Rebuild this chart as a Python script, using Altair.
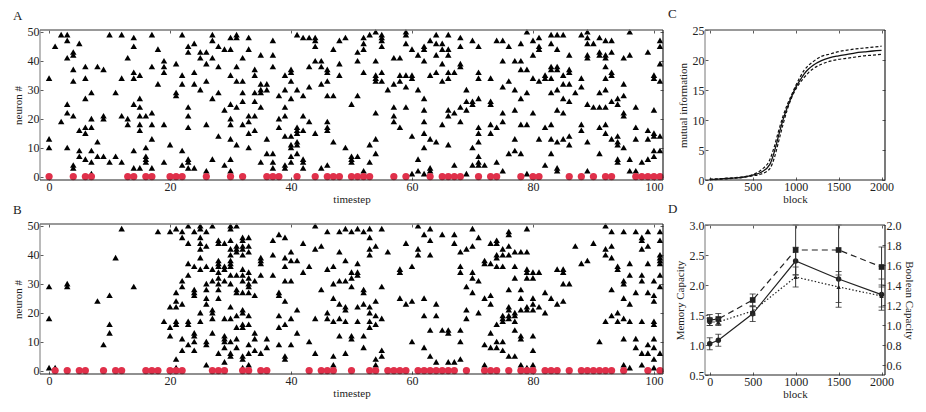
import altair as alt
import pandas as pd

A_SPIKES = {
0:[34,13,10],1:[45],2:[49,19],3:[49,47,41,25,22,10],4:[43,42,37,33,21,4,3],5:[46,16,9,7],6:[38,34,27,17,15,6],
7:[29,20,17,9,5,1],8:[38,12,7],9:[37,21,20,7],10:[49,5],11:[29,7],12:[49,34,21,5],13:[41,20,18],
14:[48,45,36,34,25,9,3],15:[35,27,24,21,18,16,3],16:[21,10,7,6,5],17:[49,38,22,18,13,3],18:[44,32],
19:[40,38,36,18,5],20:[11],21:[39,29,28],22:[49,35,32,9,4],23:[45,43,24,21,17,6,5,3],24:[46,36,32,3],
25:[43,41,30],26:[43,39,33,18,2],27:[49,47,41,27,6],28:[45,38,29,14],29:[44,23,4],30:[48,44,35,25,20,18,13,6,2],
31:[49,48,38,33,24,11],32:[41,33,29,26,18],33:[48,44,21,19,15,10],34:[37,35,29,26,21,16],35:[42,32,30,29,24,5],
36:[32,30,13,8],37:[47,42,38,8,5,3],38:[28,20,17],39:[35,30,24,21,14,4,3],40:[37,36,33,27,14,11,10,7,5],
41:[49,30,17,16,15,12,11,8],42:[48,28,21,16,6,5,3],43:[48,38,31,19],44:[48,47,45,40,15],45:[40,38,32,3],
46:[37,36,33,28,19,17,16,4],47:[44,28,12],48:[47,39,35],49:[48,10],50:[25,7,6,5],51:[43,40,28,7],
52:[48,46,44,36,2],53:[49,11,5],54:[50,40,35,34,33,22,13,8],55:[49,48,47,45,36,33],56:[30],57:[41,32,24,21,19],
58:[41,35,33,17],59:[50,49,46,35,31,24],60:[44,35,34,14,1],61:[42,30,6,2],62:[45,44,40,27,23,19,15,10,1],
63:[47,35,13,3,2],64:[49,46,42,36,12],65:[46,44,39,33,18],66:[49,44,42,36,34,23,21,11],67:[36,22,4],
68:[48,45,39,38,24,19],69:[30,26,23,1],70:[47,26,25,10,4],71:[45,36,34,27,17,15,12,7,5,4],72:[4],
73:[34,26,25,18,15],74:[47,17,5],75:[47,40,31,22,19,2],76:[45,33,8],77:[40,30,23,13,9],78:[46,40,37,27,18,8],
79:[50,37,29,18,1],80:[47,42,34,22],81:[48,45,44,33,13],82:[35,34,17,4],83:[49,46,38,37,34,29,18,13,8],
84:[49,44,38,37,30,23,12,3,2],85:[49,35,32,27,22,13],86:[42,37,36,32,26,14,11],87:[29],88:[49,34,31,18,16],
89:[50,48,46,42,41,25,12,2],90:[46,24],91:[48,43,42,29,24,17,8],92:[47,42,41,38,34,30,24,18,15],
93:[47,43,36,35,26,13],94:[27,25,14,12,11,6,5],95:[41,32,28,22,21,10],96:[50,42,6,2],97:[24,17,13,2],98:[5],
99:[43,16,13,6],100:[35,34,23,15,14,9,7],101:[47,45,39,33,14,9],
}
A_RED = [0,4,6,7,13,14,16,17,20,21,22,26,30,32,36,37,38,41,44,46,47,48,50,51,52,53,57,59,63,65,66,67,68,71,73,74,
         78,80,81,86,88,90,92,93,97,98,99,100,101]

B_SPIKES = {
0:[29,18,1],1:[1],3:[30,29],8:[24],9:[9],10:[26,16,13],11:[39],12:[49],14:[29],18:[48],19:[17],20:[48,22,15,12],
21:[49,27,24,22,17,16,4,1],22:[48,46,31,29,23,11,7],23:[50,44,37,33,17,16,9],24:[48,36,28,27,26,13,12,10,7],
25:[50,49,46,44,42,39,35,20,17],26:[48,43,36,30,28,25,23,10,9,2],27:[50,35,31,21,20,18,13],
28:[45,44,38,37,36,34,32,30,28,25,6],29:[44,36,35,31,18,12,11,10,8,3],
30:[50,49,45,42,40,38,37,36,33,30,22,18,10,6,5],31:[50,43,42,41,33,28,27,19,15,11,8],
32:[46,45,43,42,40,35,33,31,27,21,20,16,15,5,4,1],33:[46,43,41,34,32,30,29,27,19,16,9,6,2],
34:[31,26,13,11,7],35:[39,38,37,33,6],36:[11,8],37:[45,40,33],38:[47,27,26,19,15,9],39:[46,39,36,31,24,16,5,4],
40:[41,38,31,18,9],41:[38,21,13],42:[44,34],43:[36,10],44:[50,42,18,6],45:[43,28],46:[48,35,20,18],
47:[36,30,25,17,5,2],48:[48,41,31,23,18,12],49:[49,38,31,22,21,17,6],50:[48,34,32,29,12,11],51:[49,37,34,33,22,17],
52:[48,28,27,23,12,8],53:[49,46,42,40,22,20,17,15],54:[43,24,19,16,4,2],55:[49,29,18,7,5],56:[41],58:[35,34,25],
59:[44,23],60:[36,24,10],61:[50,42,40],62:[47,25,19,8],63:[49,45,40,14,5],64:[23,19,3],65:[47,14],66:[14,13,3],
67:[47,44,3],68:[41,36,34,14,10,4],69:[42,29,21,18],70:[49,43,34,32,27],71:[46,31,20],72:[38,37,25,9,2],
73:[44,37,26,23,13,8],74:[45,44,40,39,36,16,10,8],75:[42,40,36,19,18,17,10,7],76:[48,47,43,40,28,22,21,19,18,5],
77:[41,36,32,20,19,17,14,5],78:[41,28,25,21,12,11,2],79:[49,41,35,34,32,22,21,1],80:[34,32,25,23,21,12,7,2],
81:[34,22],82:[27,20],83:[25],84:[35,23],85:[35,34,30,24],86:[30],87:[43],88:[37],89:[38],90:[44],91:[10],
92:[50,42,40,17],93:[48,43,39,28,19],94:[36,35,20,17],95:[48,31,30,25,18,11,2],96:[37,33,23,17,1],
97:[48,27,11,8],98:[46,45,42,33,31,17,6,2],99:[48,43,37,27,9,6],100:[31,26,24,17,16,11,8,4,1],
101:[48,45,40,39,38,37,33,29,6],
}
B_RED = [1,3,5,6,9,11,12,16,17,18,20,21,22,27,28,29,32,33,35,36,43,45,46,47,50,53,54,56,57,58,59,61,62,63,64,65,66,
         67,69,72,73,74,76,78,79,80,82,83,84,86,88,89,90,91,92,93,95,99,101]

C_BLOCK = [0,100,200,300,400,500,600,700,750,800,850,900,950,1000,1050,1100,1150,1200,1300,1400,1500,1600,1700,1800,1900,2000]
C_MEAN  = [0.1,0.15,0.25,0.35,0.5,0.8,1.3,2.6,4.6,7.3,9.9,12.0,13.8,15.4,16.6,17.7,18.5,19.1,19.9,20.4,20.7,20.95,21.2,21.35,21.5,21.6]
C_UPPER = [0.15,0.2,0.3,0.4,0.55,0.9,1.7,3.4,5.5,8.1,10.5,12.5,14.1,15.7,17.1,18.3,19.1,19.7,20.6,21.0,21.4,21.65,21.85,22.0,22.15,22.3]
C_LOWER = [0.05,0.1,0.2,0.3,0.45,0.7,1.0,1.9,3.6,6.3,9.1,11.6,13.6,15.1,16.2,17.1,17.9,18.5,19.3,19.8,20.1,20.3,20.5,20.7,20.8,20.95]

D_BLOCK = [0,100,500,1000,1500,2000]
D_MEM = [1.02,1.08,1.52,2.40,2.10,1.84]
D_MEM_ERR = [0.10,0.10,0.13,0.23,0.47,0.26]
D_BOOL = [1.05,1.06,1.25,1.75,1.75,1.58]
D_BOOL_ERR = [0.054,0.054,0.06,0.25,0.25,0.20]
D_DOT = [1.03,1.03,1.14,1.48,1.38,1.29]
D_DOT_ERR = [0.036,0.036,0.042,0.10,0.155,0.11]

FONT = "Liberation Serif"
RED = "#E0304A"
DARK = "#222222"
GRAY = "#777777"
W_A, H_A = 623, 150
W_C, H_C = 180, 150


def tick_axis(orient, values, labels=True, title=None, fmt=None, pad=1, tpad=1):
    kw = dict(orient=orient, values=values, labels=labels, title=title, offset=-3, tickSize=3,
              tickColor="#333333", tickWidth=0.8, domain=False, grid=False,
              labelFont=FONT, labelFontSize=12, labelColor="#222222", labelPadding=pad,
              titleFont=FONT, titleFontSize=11, titleFontWeight="normal", titleColor="#222222",
              titlePadding=tpad, labelFlush=False, labelOverlap=False)
    if fmt:
        kw["format"] = fmt
    return alt.Axis(**kw)


def frame(w, h):
    top = alt.Chart().mark_rule(color=GRAY, strokeWidth=1.6).encode(x=alt.value(0), x2=alt.value(w), y=alt.value(0))
    left = alt.Chart().mark_rule(color=GRAY, strokeWidth=1).encode(x=alt.value(0), y=alt.value(0), y2=alt.value(h))
    bottom = alt.Chart().mark_rule(color=DARK, strokeWidth=1.2).encode(x=alt.value(0), x2=alt.value(w), y=alt.value(h))
    right = alt.Chart().mark_rule(color=DARK, strokeWidth=1.2).encode(x=alt.value(w), y=alt.value(0), y2=alt.value(h))
    return [top, left, bottom, right]


def panel_title(text, dx):
    return alt.TitleParams(text=text, anchor="start", dx=dx, font=FONT, fontSize=13, fontWeight="normal",
                           color="#222222", offset=3, frame="group")


def raster(spikes, red, name):
    rows = [{"t": t, "n": n} for t, ns in spikes.items() for n in ns]
    df = pd.DataFrame(rows)
    rdf = pd.DataFrame({"t": red, "n": [0] * len(red)})
    xs = alt.Scale(domain=[-1.5, 101.5], nice=False, zero=False)
    ys = alt.Scale(domain=[-1.2, 50.6], nice=False, zero=False)
    xt = [0, 20, 40, 60, 80, 100]
    yt = [0, 10, 20, 30, 40, 50]
    tri = alt.Chart(df).mark_point(shape="triangle-up", filled=True, size=42, color="black", opacity=1).encode(
        x=alt.X("t:Q", scale=xs, axis=tick_axis("bottom", xt, title="timestep")),
        y=alt.Y("n:Q", scale=ys, axis=tick_axis("left", yt, title="neuron #", tpad=4)),
    )
    dots = alt.Chart(rdf).mark_circle(size=52, color=RED, opacity=1).encode(
        x=alt.X("t:Q", scale=xs, axis=tick_axis("top", xt, labels=False)),
        y=alt.Y("n:Q", scale=ys, axis=tick_axis("right", yt, labels=False)),
    )
    return alt.layer(tri, dots, *frame(W_A, H_A)).resolve_axis(x="independent", y="independent").properties(
        width=W_A, height=H_A, title=panel_title(name, -27))


def mutual():
    df = pd.DataFrame({"b": C_BLOCK, "m": C_MEAN, "u": C_UPPER, "l": C_LOWER})
    xs = alt.Scale(domain=[-55, 2040], nice=False, zero=False)
    ys = alt.Scale(domain=[0, 25], nice=False, zero=False)
    xt = [0, 500, 1000, 1500, 2000]
    yt = [0, 5, 10, 15, 20, 25]
    main = alt.Chart(df).mark_line(color="#111111", strokeWidth=1.3, interpolate="monotone").encode(
        x=alt.X("b:Q", scale=xs, axis=tick_axis("bottom", xt, title="block", fmt="d")),
        y=alt.Y("m:Q", scale=ys, axis=tick_axis("left", yt, title="mutual information", tpad=4)),
    )
    hi = alt.Chart(df).mark_line(color="#111111", strokeWidth=1.2, strokeDash=[3, 2], interpolate="monotone").encode(
        x=alt.X("b:Q", scale=xs, axis=tick_axis("top", xt, labels=False)),
        y=alt.Y("u:Q", scale=ys, axis=tick_axis("right", yt, labels=False)),
    )
    lo = alt.Chart(df).mark_line(color="#111111", strokeWidth=1.2, strokeDash=[3, 2], interpolate="monotone").encode(
        x=alt.X("b:Q", scale=xs, axis=None),
        y=alt.Y("l:Q", scale=ys, axis=None),
    )
    return alt.layer(lo, hi, main, *frame(W_C, H_C)).resolve_axis(x="independent", y="independent").properties(
        width=W_C, height=H_C, title=panel_title("C", -37))


def series(vals, errs, ys, xs, dash, shape, size, xaxis=None, yaxis=None):
    df = pd.DataFrame({"b": D_BLOCK, "v": vals,
                       "lo": [v - e for v, e in zip(vals, errs)],
                       "hi": [v + e for v, e in zip(vals, errs)]})
    x = alt.X("b:Q", scale=xs, axis=xaxis)
    line_kw = dict(color="#222222", strokeWidth=1.2)
    if dash:
        line_kw["strokeDash"] = dash
    base = alt.Chart(df)
    line = base.mark_line(**line_kw).encode(x=x, y=alt.Y("v:Q", scale=ys, axis=yaxis))
    xn = alt.X("b:Q", scale=xs, axis=None)
    rule = base.mark_rule(color="#333333", strokeWidth=1).encode(
        x=xn, y=alt.Y("lo:Q", scale=ys, axis=None), y2="hi:Q")
    cap1 = base.mark_tick(orient="horizontal", size=6, thickness=0.8, color="#333333", opacity=1).encode(
        x=xn, y=alt.Y("lo:Q", scale=ys, axis=None))
    cap2 = base.mark_tick(orient="horizontal", size=6, thickness=0.8, color="#333333", opacity=1).encode(
        x=xn, y=alt.Y("hi:Q", scale=ys, axis=None))
    pts = base.mark_point(shape=shape, filled=True, size=size, color="#222222", opacity=1).encode(
        x=xn, y=alt.Y("v:Q", scale=ys, axis=None))
    return [line, rule, cap1, cap2, pts]


def capacity():
    xs = alt.Scale(domain=[-55, 2040], nice=False, zero=False)
    left = alt.Scale(domain=[0.5, 3.0], nice=False, zero=False)
    right = alt.Scale(domain=[0.5, 2.0], nice=False, zero=False)
    xt = [0, 500, 1000, 1500, 2000]
    s1 = series(D_MEM, D_MEM_ERR, left, xs, None, "circle", 30,
                tick_axis("bottom", xt, title="block", fmt="d"),
                tick_axis("left", [0.5, 1.0, 1.5, 2.0, 2.5, 3.0], title="Memory Capacity", fmt=".1f", tpad=4))
    s2 = series(D_BOOL, D_BOOL_ERR, right, xs, [6, 4], "square", 32,
                tick_axis("top", xt, labels=False),
                tick_axis("right", [0.6, 0.8, 1.0, 1.2, 1.4, 1.6, 1.8, 2.0], title="Boolean Capacity", fmt=".1f", tpad=2))
    s3 = series(D_DOT, D_DOT_ERR, right, xs, [1.5, 2], "triangle-up", 20)
    return alt.layer(*s1, *s2, *s3, *frame(W_C, H_C)).resolve_scale(y="independent").resolve_axis(x="independent", y="independent").properties(
        width=W_C, height=H_C, title=panel_title("D", -37))


left_col = alt.vconcat(raster(A_SPIKES, A_RED, "A"), raster(B_SPIKES, B_RED, "B"), spacing=-1)
right_col = alt.vconcat(mutual(), capacity(), spacing=-1)
chart = alt.hconcat(left_col, right_col, spacing=4).properties(
    padding={"left": 4, "top": 0, "right": 0, "bottom": 0},
    background="white",
).configure_view(stroke=None)

chart.save("out.html", embed_options={"renderer": "svg", "actions": False})
